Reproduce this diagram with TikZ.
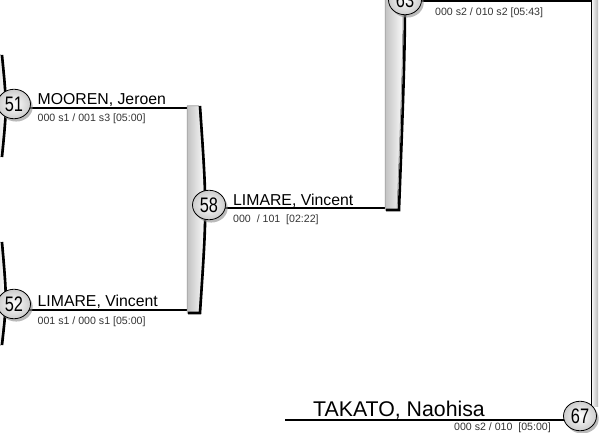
\documentclass[tikz,border=0pt]{standalone}
\usepackage{fontspec}
\setmainfont{Liberation Sans}
\usetikzlibrary{shapes.geometric,shadows,backgrounds}

\newcommand{\mnum}[1]{\scalebox{0.78}[1]{#1}}

\begin{document}
\begin{tikzpicture}[x=1pt, y=-1pt, % Pixelraster, y nach unten
  nr/.style={ellipse, draw=black, line width=0.8pt, minimum width=33pt, minimum height=29.5pt,
    inner sep=0pt, shading=radial, inner color=white, outer color=black!20,
    drop shadow={shadow xshift=2.2pt, shadow yshift=-2.8pt, fill=black!45, opacity=0.6},
    font=\fontsize{21}{21}\selectfont},
  wire/.style={line width=1.8pt},
  player/.style={anchor=base west, inner sep=0pt, font=\fontsize{15.8}{16}\selectfont},
  score/.style={anchor=base west, inner sep=0pt, text=black!80, font=\fontsize{10.6}{11}\selectfont},
  bar/.style={left color=black!24, right color=white, draw=black!45, line width=0.5pt},
  rim/.style={line width=2.6pt}]

  \useasboundingbox (0,0) rectangle (605,433);

  % Balken links (angeschnitten)
  \fill[bar] (-12,55) -- (1,55) .. controls (6,106) .. (1,157) -- (-12,157) -- cycle;
  \draw[rim] (2,55) .. controls (7,106) .. (2,157);
  \fill[bar] (-12,242) -- (1,242) .. controls (6,300) .. (1,345) -- (-12,345) -- cycle;
  \draw[rim] (2,242) .. controls (7,300) .. (2,345);

  % Balken Spiel 58
  \fill[bar] (187,106) -- (199,106) .. controls (206,208) .. (199,313) -- (187,313) -- cycle;
  \draw[rim] (200,106) .. controls (207,208) .. (200,313) -- (188,313);

  % Balken Spiel 63
  \fill[bar] (385,-205) -- (397,-205) .. controls (405,1) .. (397,210) -- (385,210) -- cycle;
  \draw[rim] (399,-205) .. controls (407,1) .. (399,210) -- (386,210);

  % Balken Spiel 67
  \fill[left color=white, right color=black!28] (591,-5) rectangle (598,406);
  \draw[line width=1pt] (591,0) -- (591,406);

  % Spielnummern
  \node[nr] (m51) at (14,104) {\mnum{51}};
  \node[nr] (m52) at (14,304) {\mnum{52}};
  \node[nr] (m58) at (209,205) {\mnum{58}};
  \node[nr] (m63) at (405,0) {\mnum{63}};
  \node[nr] (m67) at (580,416) {\mnum{67}};

  % Anschlusspunkte
  \coordinate (j51) at (188,108);
  \coordinate (j52) at (188,310);
  \coordinate (j58) at (386,208);
  \coordinate (j63) at (595,1);
  \coordinate (t67) at (285,420);

  % Linien unter den Kreisen
  \begin{scope}[on background layer]
    \draw[wire] (m51.center |- j51) -- (j51);
    \draw[wire] (m52.center |- j52) -- (j52);
    \draw[wire] (m58.center |- j58) -- (j58);
    \draw[wire] (m63.center |- j63) -- (j63);
    \draw[wire] (t67) -- (m67.center |- t67);
  \end{scope}

  % Namen und Ergebnisse
  \node[player] (n51) at (37.5,105) {MOOREN, Jeroen};
  \node[score] (s51) at (37.5,122) {000 s1 / 001 s3 [05:00]};
  \node[player] (n52) at (37.5,306) {LIMARE, Vincent};
  \node[score] (s52) at (37.5,324) {001 s1 / 000 s1 [05:00]};
  \node[player] (n58) at (233,205) {LIMARE, Vincent};
  \node[score] (s58) at (233,222) {000 \ / 101 \ [02:22]};
  \node[score] (s63) at (435,15.5) {000 s2 / 010 s2 [05:43]};
  \node[player, font=\fontsize{21.3}{22}\selectfont] (n67) at (313,416) {TAKATO, Naohisa};
  \node[score, anchor=base east] (s67) at (551,430) {000 s2 / 010 \ [05:00]};

\end{tikzpicture}
\end{document}
